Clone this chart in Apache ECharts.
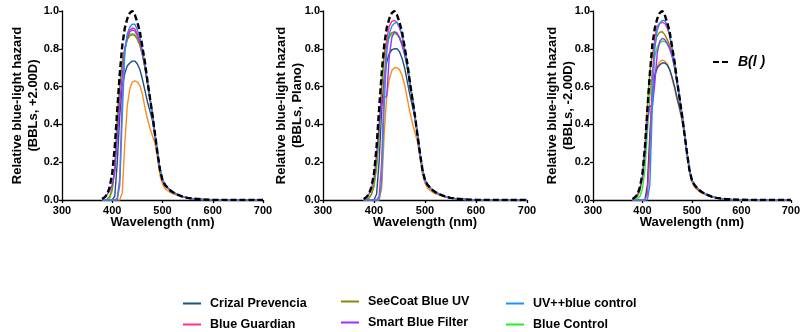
<!DOCTYPE html>
<html>
<head>
<meta charset="utf-8">
<title>Relative blue-light hazard</title>
<script src="https://cdn.jsdelivr.net/npm/echarts@6/dist/echarts.min.js"></script>
<style>
    html, body { margin: 0; padding: 0; background: #fff; }
    #chart { width: 803px; height: 332px; }
</style>
</head>
<body onload="onLoadBody()">
<div id="chart"></div>
<script>
// wavelength (nm)
var wavelengths = [380, 385, 390, 395, 400, 405, 410, 415, 420, 425, 430, 435, 440, 445, 450, 455, 460, 465, 470, 475,
    480, 485, 490, 495, 500, 505, 510, 515, 520, 530, 540, 550, 560, 580, 600, 650, 700];

// B(l) blue-light hazard function, black dashed
var hazardB = [0.005, 0.015, 0.03, 0.07, 0.14, 0.28, 0.48, 0.67, 0.82, 0.91, 0.96, 0.99, 1.0, 0.98, 0.94, 0.89, 0.81, 0.73, 0.63, 0.54,
    0.45, 0.35, 0.25, 0.16, 0.105, 0.08, 0.065, 0.052, 0.042, 0.028, 0.018, 0.011, 0.007, 0.003, 0.001, 0, 0];

var panelTitles = ['(BBLs, +2.00D)', '(BBLs, Plano)', '(BBLs, -2.00D)'];
var xTicks = [300, 400, 500, 600, 700];
var yTicks = [0.0, 0.2, 0.4, 0.6, 0.8, 1.0];

// +2.00D
var crizal1 = [0, 0, 0, 0, 0, 0.02, 0.2, 0.45, 0.6, 0.67, 0.71, 0.725, 0.735, 0.735, 0.72, 0.69, 0.64, 0.58, 0.52, 0.47,
    0.42, 0.34, 0.25, 0.16, 0.105, 0.08, 0.065, 0.052, 0.042, 0.028, 0.018, 0.011, 0.007, 0.003, 0.001, 0, 0];
var guardian1 = [0, 0, 0, 0, 0, 0, 0.01, 0.12, 0.55, 0.8, 0.87, 0.9, 0.91, 0.905, 0.88, 0.84, 0.78, 0.71, 0.62, 0.54,
    0.45, 0.35, 0.25, 0.16, 0.105, 0.08, 0.065, 0.052, 0.042, 0.028, 0.018, 0.011, 0.007, 0.003, 0.001, 0, 0];
var seecoat1 = [0, 0, 0.005, 0.02, 0.06, 0.16, 0.4, 0.6, 0.73, 0.8, 0.85, 0.87, 0.875, 0.87, 0.85, 0.82, 0.77, 0.7, 0.62, 0.54,
    0.45, 0.35, 0.25, 0.16, 0.105, 0.08, 0.065, 0.052, 0.042, 0.028, 0.018, 0.011, 0.007, 0.003, 0.001, 0, 0];
var smart1 = [0.005, 0.015, 0.03, 0.05, 0.08, 0.15, 0.33, 0.52, 0.66, 0.8, 0.86, 0.89, 0.9, 0.895, 0.87, 0.83, 0.77, 0.71, 0.62, 0.54,
    0.45, 0.35, 0.25, 0.16, 0.105, 0.08, 0.065, 0.052, 0.042, 0.028, 0.018, 0.011, 0.007, 0.003, 0.001, 0, 0];
var uvpp1 = [0, 0, 0, 0, 0, 0, 0, 0.08, 0.45, 0.78, 0.88, 0.915, 0.93, 0.93, 0.9, 0.86, 0.79, 0.72, 0.63, 0.54,
    0.45, 0.35, 0.25, 0.16, 0.105, 0.08, 0.065, 0.052, 0.042, 0.028, 0.018, 0.011, 0.007, 0.003, 0.001, 0, 0];
var control1 = [0, 0, 0, 0.01, 0.05, 0.18, 0.45, 0.62, 0.73, 0.8, 0.85, 0.875, 0.88, 0.875, 0.855, 0.82, 0.77, 0.7, 0.62, 0.54,
    0.45, 0.35, 0.25, 0.16, 0.105, 0.08, 0.065, 0.052, 0.042, 0.028, 0.018, 0.011, 0.007, 0.003, 0.001, 0, 0];
var orange1 = [0, 0, 0, 0, 0, 0, 0, 0, 0.04, 0.3, 0.5, 0.59, 0.625, 0.63, 0.625, 0.605, 0.56, 0.49, 0.43, 0.38,
    0.34, 0.3, 0.22, 0.13, 0.085, 0.06, 0.05, 0.04, 0.034, 0.024, 0.016, 0.01, 0.006, 0.003, 0.001, 0, 0];

// Plano
var crizal2 = [0, 0, 0, 0, 0, 0.03, 0.2, 0.48, 0.65, 0.73, 0.775, 0.795, 0.8, 0.8, 0.785, 0.75, 0.7, 0.63, 0.56, 0.5,
    0.44, 0.35, 0.25, 0.16, 0.105, 0.08, 0.065, 0.052, 0.042, 0.028, 0.018, 0.011, 0.007, 0.003, 0.001, 0, 0];
var guardian2 = [0, 0, 0, 0, 0, 0, 0.02, 0.2, 0.62, 0.85, 0.92, 0.945, 0.95, 0.94, 0.91, 0.87, 0.8, 0.72, 0.63, 0.54,
    0.45, 0.35, 0.25, 0.16, 0.105, 0.08, 0.065, 0.052, 0.042, 0.028, 0.018, 0.011, 0.007, 0.003, 0.001, 0, 0];
var seecoat2 = [0, 0, 0.01, 0.03, 0.08, 0.18, 0.36, 0.6, 0.78, 0.84, 0.87, 0.885, 0.89, 0.88, 0.86, 0.83, 0.78, 0.71, 0.62, 0.54,
    0.45, 0.35, 0.25, 0.16, 0.105, 0.08, 0.065, 0.052, 0.042, 0.028, 0.018, 0.011, 0.007, 0.003, 0.001, 0, 0];
var smart2 = [0.005, 0.015, 0.03, 0.06, 0.12, 0.24, 0.4, 0.53, 0.54, 0.55, 0.76, 0.86, 0.89, 0.885, 0.86, 0.82, 0.77, 0.71, 0.62, 0.54,
    0.45, 0.35, 0.25, 0.16, 0.105, 0.08, 0.065, 0.052, 0.042, 0.028, 0.018, 0.011, 0.007, 0.003, 0.001, 0, 0];
var uvpp2 = [0, 0, 0, 0, 0, 0, 0, 0.1, 0.5, 0.78, 0.88, 0.92, 0.935, 0.94, 0.92, 0.87, 0.8, 0.72, 0.63, 0.54,
    0.45, 0.35, 0.25, 0.16, 0.105, 0.08, 0.065, 0.052, 0.042, 0.028, 0.018, 0.011, 0.007, 0.003, 0.001, 0, 0];
var control2 = [0, 0, 0.01, 0.03, 0.07, 0.17, 0.34, 0.58, 0.76, 0.83, 0.86, 0.875, 0.88, 0.875, 0.855, 0.82, 0.77, 0.7, 0.62, 0.54,
    0.45, 0.35, 0.25, 0.16, 0.105, 0.08, 0.065, 0.052, 0.042, 0.028, 0.018, 0.011, 0.007, 0.003, 0.001, 0, 0];
var orange2 = [0, 0, 0, 0, 0, 0, 0, 0.06, 0.35, 0.55, 0.64, 0.685, 0.7, 0.7, 0.69, 0.66, 0.61, 0.54, 0.47, 0.41,
    0.36, 0.31, 0.23, 0.14, 0.09, 0.062, 0.05, 0.04, 0.034, 0.024, 0.016, 0.01, 0.006, 0.003, 0.001, 0, 0];

// -2.00D
var crizal3 = [0, 0, 0, 0, 0, 0, 0.08, 0.35, 0.56, 0.66, 0.7, 0.715, 0.725, 0.725, 0.715, 0.69, 0.65, 0.6, 0.54, 0.49,
    0.43, 0.35, 0.25, 0.16, 0.105, 0.08, 0.065, 0.052, 0.042, 0.028, 0.018, 0.011, 0.007, 0.003, 0.001, 0, 0];
var guardian3 = [0, 0, 0, 0, 0, 0, 0.03, 0.25, 0.65, 0.86, 0.92, 0.935, 0.94, 0.935, 0.91, 0.87, 0.8, 0.72, 0.63, 0.54,
    0.45, 0.35, 0.25, 0.16, 0.105, 0.08, 0.065, 0.052, 0.042, 0.028, 0.018, 0.011, 0.007, 0.003, 0.001, 0, 0];
var seecoat3 = [0, 0.005, 0.02, 0.05, 0.12, 0.28, 0.5, 0.68, 0.77, 0.83, 0.87, 0.888, 0.89, 0.875, 0.85, 0.82, 0.77, 0.7, 0.62, 0.54,
    0.45, 0.35, 0.25, 0.16, 0.105, 0.08, 0.065, 0.052, 0.042, 0.028, 0.018, 0.011, 0.007, 0.003, 0.001, 0, 0];
var smart3 = [0.005, 0.015, 0.03, 0.06, 0.12, 0.25, 0.42, 0.5, 0.49, 0.62, 0.78, 0.84, 0.855, 0.85, 0.83, 0.8, 0.76, 0.7, 0.62, 0.54,
    0.45, 0.35, 0.25, 0.16, 0.105, 0.08, 0.065, 0.052, 0.042, 0.028, 0.018, 0.011, 0.007, 0.003, 0.001, 0, 0];
var uvpp3 = [0, 0, 0, 0, 0, 0, 0, 0.08, 0.5, 0.8, 0.9, 0.935, 0.95, 0.95, 0.925, 0.875, 0.8, 0.72, 0.63, 0.54,
    0.45, 0.35, 0.25, 0.16, 0.105, 0.08, 0.065, 0.052, 0.042, 0.028, 0.018, 0.011, 0.007, 0.003, 0.001, 0, 0];
var control3 = [0, 0, 0.005, 0.02, 0.06, 0.16, 0.36, 0.55, 0.68, 0.76, 0.81, 0.83, 0.84, 0.84, 0.825, 0.8, 0.76, 0.7, 0.62, 0.54,
    0.45, 0.35, 0.25, 0.16, 0.105, 0.08, 0.065, 0.052, 0.042, 0.028, 0.018, 0.011, 0.007, 0.003, 0.001, 0, 0];
var orange3 = [0, 0, 0, 0, 0, 0, 0.05, 0.3, 0.55, 0.66, 0.71, 0.73, 0.74, 0.735, 0.72, 0.69, 0.64, 0.59, 0.53, 0.48,
    0.42, 0.34, 0.24, 0.15, 0.095, 0.07, 0.055, 0.045, 0.036, 0.025, 0.016, 0.01, 0.006, 0.003, 0.001, 0, 0];

var lensNames = ['Crizal Prevencia', 'Blue Guardian', 'SeeCoat Blue UV', 'Smart Blue Filter', 'UV++blue control', 'Blue Control'];
var hazardName = 'B(l )';

var blueLightChart = function () {
    var obj = {};

    // [wavelength, value] pairs
    function pairs(values) {
        var out = [];
        for (var i = 0; i < wavelengths.length; i++) {
            out.push([wavelengths[i], values[i]]);
        }
        return out;
    }

    obj.init = function () {
        var chart = echarts.init(document.getElementById('chart'));
        var grids = [
            {left: 62, top: 11, width: 201, height: 189},
            {left: 323, top: 11, width: 204, height: 189},
            {left: 593, top: 11, width: 203, height: 189}
        ];
        var nameGaps = [21, 18, 17];
        var panels = [
            [orange1, crizal1, control1, seecoat1, smart1, guardian1, uvpp1],
            [orange2, crizal2, control2, seecoat2, smart2, guardian2, uvpp2],
            [orange3, crizal3, control3, seecoat3, smart3, guardian3, uvpp3]
        ];
        // draw order: orange, crizal, green, olive, purple, pink, blue
        var drawNames = ['Uncoated', lensNames[0], lensNames[5], lensNames[2], lensNames[3], lensNames[1], lensNames[4]];
        var drawColors = ['#ff8a1c', '#1d4f80', '#22f022', '#8c8a00', '#9b30ff', '#ff2d95', '#1f8fff'];

        var xAxes = [], yAxes = [], series = [];
        for (var p = 0; p < 3; p++) {
            xAxes.push({
                gridIndex: p, type: 'value', min: xTicks[0], max: xTicks[xTicks.length - 1], interval: 100,
                name: 'Wavelength (nm)', nameLocation: 'middle', nameGap: 16, nameMoveOverlap: false,
                nameTextStyle: {fontWeight: 'bold', fontSize: 13, color: '#000'},
                axisLine: {show: true, lineStyle: {color: '#000', width: 1.3}},
                axisTick: {show: true, length: 3, lineStyle: {color: '#000', width: 1.3}},
                axisLabel: {fontWeight: 'bold', fontSize: 11, color: '#000', margin: 5, showMaxLabel: true},
                splitLine: {show: false}
            });
            yAxes.push({
                gridIndex: p, type: 'value', min: yTicks[0], max: yTicks[yTicks.length - 1], interval: 0.2,
                name: 'Relative blue-light hazard\n' + panelTitles[p], nameLocation: 'middle', nameGap: nameGaps[p],
                nameMoveOverlap: false,
                nameTextStyle: {fontWeight: 'bold', fontSize: 13, color: '#000', lineHeight: 16},
                axisLine: {show: true, lineStyle: {color: '#000', width: 1.3}},
                axisTick: {show: true, length: 3, lineStyle: {color: '#000', width: 1.3}},
                axisLabel: {fontWeight: 'bold', fontSize: 11, color: '#000', margin: 3,
                    formatter: function (v) { return v.toFixed(1); }},
                splitLine: {show: false}
            });
            for (var s = 0; s < panels[p].length; s++) {
                series.push({
                    name: drawNames[s], type: 'line', xAxisIndex: p, yAxisIndex: p,
                    data: pairs(panels[p][s]), symbol: 'none', silent: true,
                    color: drawColors[s],
                    lineStyle: {color: drawColors[s], width: 1.4}
                });
            }
            series.push({
                name: hazardName, type: 'line', xAxisIndex: p, yAxisIndex: p,
                data: pairs(hazardB), symbol: 'none', silent: true, z: 5,
                color: '#000',
                lineStyle: {color: '#000', width: 2.4, type: [6, 3]}
            });
        }

        var legendBase = function (left, top, names) {
            return {
                orient: 'vertical', left: left, top: top, padding: 0, itemGap: 8,
                itemWidth: 18, itemHeight: 14, selectedMode: false,
                itemStyle: {opacity: 0},
                textStyle: {fontWeight: 'bold', fontSize: 12.5, color: '#000', padding: [0, 0, 0, 4]},
                data: names
            };
        };

        var option = {
            animation: false,
            backgroundColor: '#fff',
            textStyle: {fontFamily: 'Liberation Sans, Arial, sans-serif'},
            grid: grids,
            xAxis: xAxes,
            yAxis: yAxes,
            legend: [
                legendBase(182, 297, [lensNames[0], lensNames[1]]),
                legendBase(340, 295, [lensNames[2], lensNames[3]]),
                legendBase(505, 297, [lensNames[4], lensNames[5]]),
                {
                    left: 712, top: 55, padding: 0, itemWidth: 17, itemHeight: 14, selectedMode: false,
                    itemStyle: {opacity: 0},
                    textStyle: {fontWeight: 'bold', fontStyle: 'italic', fontSize: 14, color: '#000', padding: [0, 0, 0, 3]},
                    data: [hazardName]
                }
            ],
            series: series
        };
        chart.setOption(option);
    };
    return obj;
}();

function onLoadBody() {
    blueLightChart.init();
}
</script>
</body>
</html>
